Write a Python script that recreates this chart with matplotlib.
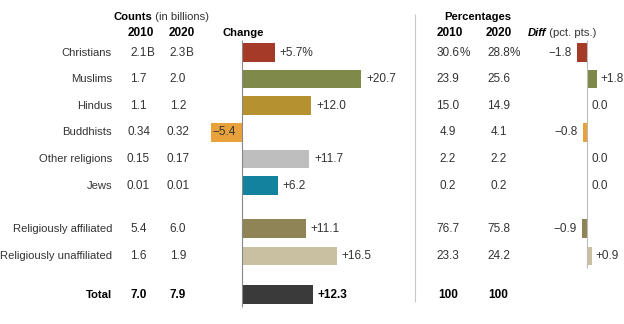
import matplotlib.pyplot as plt

plt.rcParams['font.family'] = ['Liberation Sans', 'DejaVu Sans']

categories = ["Christians", "Muslims", "Hindus", "Buddhists", "Other religions", "Jews",
              "Religiously affiliated", "Religiously unaffiliated", "Total"]
count_2010 = ["2.1", "1.7", "1.1", "0.34", "0.15", "0.01", "5.4", "1.6", "7.0"]
count_2020 = ["2.3", "2.0", "1.2", "0.32", "0.17", "0.01", "6.0", "1.9", "7.9"]
change = [5.7, 20.7, 12.0, -5.4, 11.7, 6.2, 11.1, 16.5, 12.3]
pct_2010 = ["30.6", "23.9", "15.0", "4.9", "2.2", "0.2", "76.7", "23.3", "100"]
pct_2020 = ["28.8", "25.6", "14.9", "4.1", "2.2", "0.2", "75.8", "24.2", "100"]
diff = [-1.8, 1.8, 0.0, -0.8, 0.0, 0.0, -0.9, 0.9]
colors = ["#A53A28", "#7F8A4A", "#B5912F", "#E9A23B", "#BEBEBE", "#13829E",
          "#8F8455", "#C9C0A2", "#3A3A3A"]

# row layout (row units), gaps before the summary rows
ypos = [0, 1, 2, 3, 4, 5, 6.62, 7.65, 9.1]
ylim = (10.207, -1.974)
fs = 8.1
nfs = 8.5   # numbers a touch bigger
tc = "#333333"
minus = "\u2212"

fig = plt.figure(figsize=(6.24, 3.24), dpi=100)

txt = fig.add_axes([0, 0, 1, 1])
txt.set_xlim(0, 624)
txt.set_ylim(*ylim)
txt.axis('off')

# headers
h1, h2 = -1.33, -0.74
t = txt.text(113, h1, "Counts", fontsize=fs, fontweight='bold', va='center', ha='left')
txt.annotate(" (in billions)", xy=(1, 0.5), xycoords=t, va='center', ha='left', fontsize=fs, color=tc)
txt.text(140.5, h2, "2010", fontsize=nfs, fontweight='bold', ha='center', va='center')
txt.text(182, h2, "2020", fontsize=nfs, fontweight='bold', ha='center', va='center')
txt.text(243, h2, "Change", fontsize=fs, fontweight='bold', ha='center', va='center')
txt.text(478, h1, "Percentages", fontsize=fs, fontweight='bold', ha='center', va='center')
txt.text(450, h2, "2010", fontsize=nfs, fontweight='bold', ha='center', va='center')
txt.text(499, h2, "2020", fontsize=nfs, fontweight='bold', ha='center', va='center')
t = txt.text(528, h2, "Diff", fontsize=fs, fontweight='bold', fontstyle='italic', ha='left', va='center')
txt.annotate(" (pct. pts.)", xy=(1, 0.5), xycoords=t, va='center', ha='left', fontsize=fs, color=tc)

txt.vlines(415, -1.447, 9.38, color='#c8c8c8', lw=0.8)

for i, cat in enumerate(categories):
    y = ypos[i]
    w = 'bold' if cat == "Total" else 'normal'
    c = 'black' if cat == "Total" else tc
    txt.text(112, y, cat, ha='right', va='center', fontsize=fs, fontweight=w, color=c)
    for x, s, suf in [(138.5, count_2010[i], "B"), (178, count_2020[i], "B"),
                      (448, pct_2010[i], "%"), (498.5, pct_2020[i], "%")]:
        t = txt.text(x, y, s, ha='center', va='center', fontsize=nfs, fontweight=w, color=c)
        if i == 0:
            txt.annotate(suf, xy=(1, 0.5), xycoords=t, va='center', ha='left', fontsize=nfs, color=c)

# change bars
chg = fig.add_axes([200 / 624, 0, 180 / 624, 1])
chg.set_xlim(-42 / 5.75, 138 / 5.75)
chg.set_ylim(*ylim)
chg.axis('off')
chg.barh(ypos, change, height=0.7, color=colors)
chg.vlines(0, -0.47, 9.57, color='#888888', lw=0.8)
for i, v in enumerate(change):
    w = 'bold' if categories[i] == "Total" else 'normal'
    c = 'black' if categories[i] == "Total" else tc
    if v >= 0:
        s = f"+{v:.1f}" + ("%" if i == 0 else "")
        chg.annotate(s, xy=(v, ypos[i]), xytext=(5, 0), textcoords='offset pixels',
                     ha='left', va='center', fontsize=nfs, fontweight=w, color=c)
    else:
        chg.annotate(f"{minus}{abs(v):.1f}", xy=(v, ypos[i]), xytext=(2, 0), textcoords='offset pixels',
                     ha='left', va='center', fontsize=nfs, fontweight=w, color=c)

# diff bars
dif = fig.add_axes([540 / 624, 0, 84 / 624, 1])
dif.set_xlim(-47 / 5.6, 37 / 5.6)
dif.set_ylim(*ylim)
dif.axis('off')
dif.barh(ypos[:len(diff)], diff, height=0.7, color=colors[:len(diff)])
dif.vlines(0, -0.47, 8.1, color='#bbbbbb', lw=0.8)
for i, v in enumerate(diff):
    if v > 0:
        dif.annotate(f"+{v:.1f}", xy=(v, ypos[i]), xytext=(3, 0), textcoords='offset pixels',
                     ha='left', va='center', fontsize=nfs, color=tc)
    elif v < 0:
        dif.annotate(f"{minus}{abs(v):.1f}", xy=(v, ypos[i]), xytext=(-5, 0), textcoords='offset pixels',
                     ha='right', va='center', fontsize=nfs, color=tc)
    else:
        dif.annotate("0.0", xy=(v, ypos[i]), xytext=(5, 0), textcoords='offset pixels',
                     ha='left', va='center', fontsize=nfs, color=tc)

fig.savefig("out.png", dpi=100)
